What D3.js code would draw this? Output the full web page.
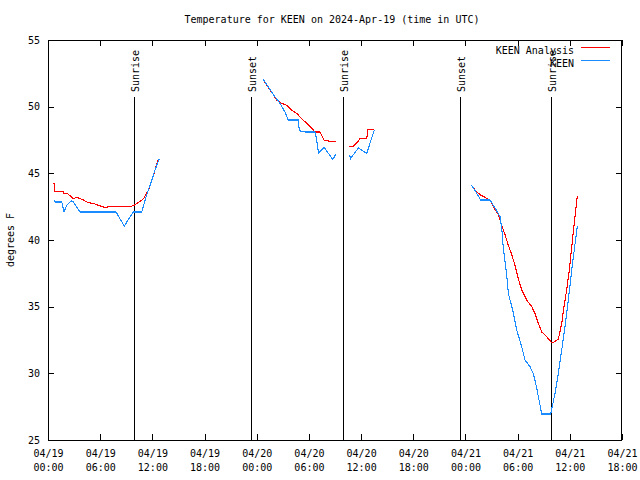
<!DOCTYPE html>
<html>
<head>
<meta charset="utf-8">
<script src="https://cdn.jsdelivr.net/npm/d3@7"></script>
<style>
  html, body { margin: 0; padding: 0; background: #fff; }
  svg text { font-family: "DejaVu Sans Mono", monospace; font-size: 10px; fill: #000; }
</style>
</head>
<body>
<svg id="chart" width="640" height="480"></svg>
<script>
// ---------- DATA (hours after 2024-04-19 00:00 UTC; null = gap) ----------
const titleText = "Temperature for KEEN on 2024-Apr-19 (time in UTC)";
const yLabel = "degrees F";
const seriesNames = ["KEEN Analysis", "KEEN"];
const seriesColors = ["#ff0000", "#1a8cff"];

const analysisHours = [
  0.69, 0.75, 1.76, 1.80, 2.22, 2.91, 3.30, 4.06, 4.63, 5.21, 5.78, 6.47, 7.13, 8.28, 9.43, 9.92, 10.58, 11.0, 11.55, 11.92, 12.30, 12.70,
  null,
  24.76, 25.15, 25.53, 25.91, 26.30, 26.87, 27.45, 28.02, 28.60, 29.17, 29.75, 30.32, 30.70, 31.28, 31.74, 32.42, 33.12,
  null,
  34.61, 35.10, 35.68, 35.87, 36.65, 36.79, 37.52,
  null,
  48.79, 49.10, 49.67, 50.25, 50.82, 51.20, 51.78, 52.17, 52.55, 52.93, 53.32, 53.70, 54.08, 54.47, 55.04, 55.62, 56.00, 56.38, 56.77, 57.34, 57.72, 57.92, 58.18, 58.68, 59.07, 59.33, 59.64, 59.94, 60.40, 60.86
];
const analysisTemps = [
  44.3, 43.65, 43.65, 43.5, 43.5, 43.1, 43.2, 43.0, 42.8, 42.75, 42.6, 42.45, 42.5, 42.5, 42.5, 42.6, 42.9, 43.1, 43.75, 44.4, 45.25, 46.1,
  null,
  52.05, 51.6, 51.25, 50.9, 50.5, 50.25, 50.1, 49.75, 49.5, 49.1, 48.75, 48.4, 48.1, 48.1, 47.5, 47.4, 47.35,
  null,
  47.0, 47.05, 47.4, 47.6, 47.6, 48.3, 48.3,
  null,
  44.0, 43.75, 43.4, 43.2, 43.0, 42.5, 41.9, 41.1, 40.4, 39.6, 38.9, 38.1, 37.1, 36.25, 35.5, 35.0, 34.5, 33.75, 33.1, 32.75, 32.45, 32.3, 32.35, 32.55, 33.75, 35.0, 36.25, 37.75, 40.6, 43.3
];

const obsHours = [
  0.69, 0.80, 1.58, 1.84, 2.15, 2.72, 2.91, 3.68, 7.82, 8.77, 9.81, 10.77, 11.35, 11.92, 12.30, 12.80,
  null,
  24.76, 25.91, 26.68, 27.25, 27.63, 28.78, 28.90, 29.55, 30.70, 30.90, 31.10, 31.74, 32.74, 33.12,
  null,
  34.67, 34.78, 35.68, 36.65, 37.52,
  null,
  48.72, 49.29, 49.75, 50.82, 51.40, 51.97, 52.17, 52.35, 52.55, 52.74, 52.93, 53.43, 53.89, 54.47, 54.85, 55.42, 55.80, 56.19, 56.77, 57.80, 58.30, 58.68, 59.07, 59.45, 59.83, 60.22, 60.86
];
const obsTemps = [
  43.0, 42.85, 42.85, 42.1, 42.6, 42.95, 42.85, 42.1, 42.1, 41.05, 42.1, 42.1, 43.4, 44.45, 45.25, 46.1,
  null,
  52.05, 50.9, 50.25, 49.6, 49.0, 49.0, 48.2, 48.1, 48.1, 47.5, 46.5, 46.95, 46.05, 46.45,
  null,
  46.4, 46.1, 46.9, 46.5, 48.25,
  null,
  44.1, 43.5, 43.0, 43.0, 42.4, 41.75, 40.9, 39.4, 38.4, 37.4, 36.0, 34.75, 33.25, 32.0, 31.0, 30.5, 30.0, 28.9, 26.95, 26.95, 28.5, 30.0, 31.75, 33.5, 35.5, 37.75, 41.05
];

const sunEventNames = ["Sunrise", "Sunset", "Sunrise", "Sunset", "Sunrise"];
const sunEventHours = [9.89, 23.34, 33.92, 47.37, 57.84];

const yTicks = [25, 30, 35, 40, 45, 50, 55];
const xTickHours = [0, 6, 12, 18, 24, 30, 36, 42, 48, 54, 60, 66];
const xDomainHours = [0, 66];
const yDomain = [25, 55];

// ---------- SETUP ----------
const t0 = Date.UTC(2024, 3, 19, 0, 0);
const toDate = h => new Date(t0 + h * 3600 * 1000);

const W = 640, H = 480;
const m = { left: 48, right: 18, top: 40, bottom: 40 };
const svg = d3.select("#chart");

const x = d3.scaleUtc()
  .domain(xDomainHours.map(toDate))
  .range([m.left, W - m.right]);
const y = d3.scaleLinear()
  .domain(yDomain)
  .range([H - m.bottom, m.top]);

const fmtDate = d3.utcFormat("%m/%d");
const fmtTime = d3.utcFormat("%H:%M");
const xTickDates = xTickHours.map(toDate);

// Axes (inward ticks, gnuplot style)
const tick = 6;
const gB = svg.append("g").attr("transform", `translate(0,${H - m.bottom})`)
  .call(d3.axisBottom(x).tickValues(xTickDates).tickSize(-tick).tickSizeOuter(0).tickPadding(8).tickFormat(""));
const gT = svg.append("g").attr("transform", `translate(0,${m.top})`)
  .call(d3.axisTop(x).tickValues(xTickDates).tickSize(-tick).tickSizeOuter(0).tickFormat(""));
const gL = svg.append("g").attr("transform", `translate(${m.left},0)`)
  .call(d3.axisLeft(y).tickValues(yTicks).tickSize(-tick).tickSizeOuter(0).tickPadding(8).tickFormat(d3.format("d")));
const gR = svg.append("g").attr("transform", `translate(${W - m.right},0)`)
  .call(d3.axisRight(y).tickValues(yTicks).tickSize(-tick).tickSizeOuter(0).tickFormat(""));

[gB, gT, gL, gR].forEach(g => {
  g.select(".domain").remove();
  g.selectAll("line").attr("stroke", "#000").attr("shape-rendering", "crispEdges");
});
gL.selectAll("text").attr("font-family", "DejaVu Sans Mono").attr("font-size", 10).attr("x", -8).attr("dy", "0.32em");

// x tick labels, two lines
gB.selectAll(".tick").append("text")
  .attr("text-anchor", "middle")
  .attr("fill", "#000")
  .each(function(d) {
    const t = d3.select(this);
    t.append("tspan").attr("x", 0).attr("y", 17).text(fmtDate(d));
    t.append("tspan").attr("x", 0).attr("y", 31).text(fmtTime(d));
  });

// Border
svg.append("rect")
  .attr("x", m.left + 0.5).attr("y", m.top + 0.5)
  .attr("width", W - m.left - m.right - 1).attr("height", H - m.top - m.bottom)
  .attr("fill", "none").attr("stroke", "#000").attr("shape-rendering", "crispEdges");

// Sunrise / sunset markers
const sg = svg.append("g");
sunEventHours.forEach((h, i) => {
  const xp = Math.round(x(toDate(h))) + 0.5;
  sg.append("line")
    .attr("x1", xp).attr("x2", xp)
    .attr("y1", 97).attr("y2", H - m.bottom)
    .attr("stroke", "#000").attr("shape-rendering", "crispEdges");
  sg.append("text")
    .attr("transform", `translate(${xp + 4},92) rotate(-90)`)
    .attr("text-anchor", "start")
    .text(sunEventNames[i]);
});

// Lines
function buildData(hours, temps) {
  return hours.map((h, i) => ({ h, v: temps[i] }));
}
const line = d3.line()
  .defined(d => d.h !== null && d.v !== null)
  .x(d => x(toDate(d.h)))
  .y(d => y(d.v));

const datasets = [buildData(analysisHours, analysisTemps), buildData(obsHours, obsTemps)];
datasets.forEach((ds, i) => {
  svg.append("path")
    .datum(ds)
    .attr("fill", "none")
    .attr("stroke", seriesColors[i])
    .attr("stroke-width", 1.1)
    .attr("shape-rendering", "crispEdges")
    .attr("d", line);
});

// Legend
const lg = svg.append("g");
seriesNames.forEach((name, i) => {
  const ly = 50 + i * 13;
  lg.append("text").attr("x", 574).attr("y", ly).attr("dy", "0.35em").attr("text-anchor", "end").text(name);
  lg.append("line").attr("x1", 581).attr("x2", 610).attr("y1", ly - 2.5).attr("y2", ly - 2.5)
    .attr("stroke", seriesColors[i]).attr("shape-rendering", "crispEdges");
});

// Title
svg.append("text").attr("x", 332).attr("y", 23).attr("text-anchor", "middle").text(titleText);

// Y label
svg.append("text")
  .attr("transform", `translate(14,${(m.top + H - m.bottom) / 2}) rotate(-90)`)
  .attr("text-anchor", "middle")
  .text(yLabel);
</script>
</body>
</html>
